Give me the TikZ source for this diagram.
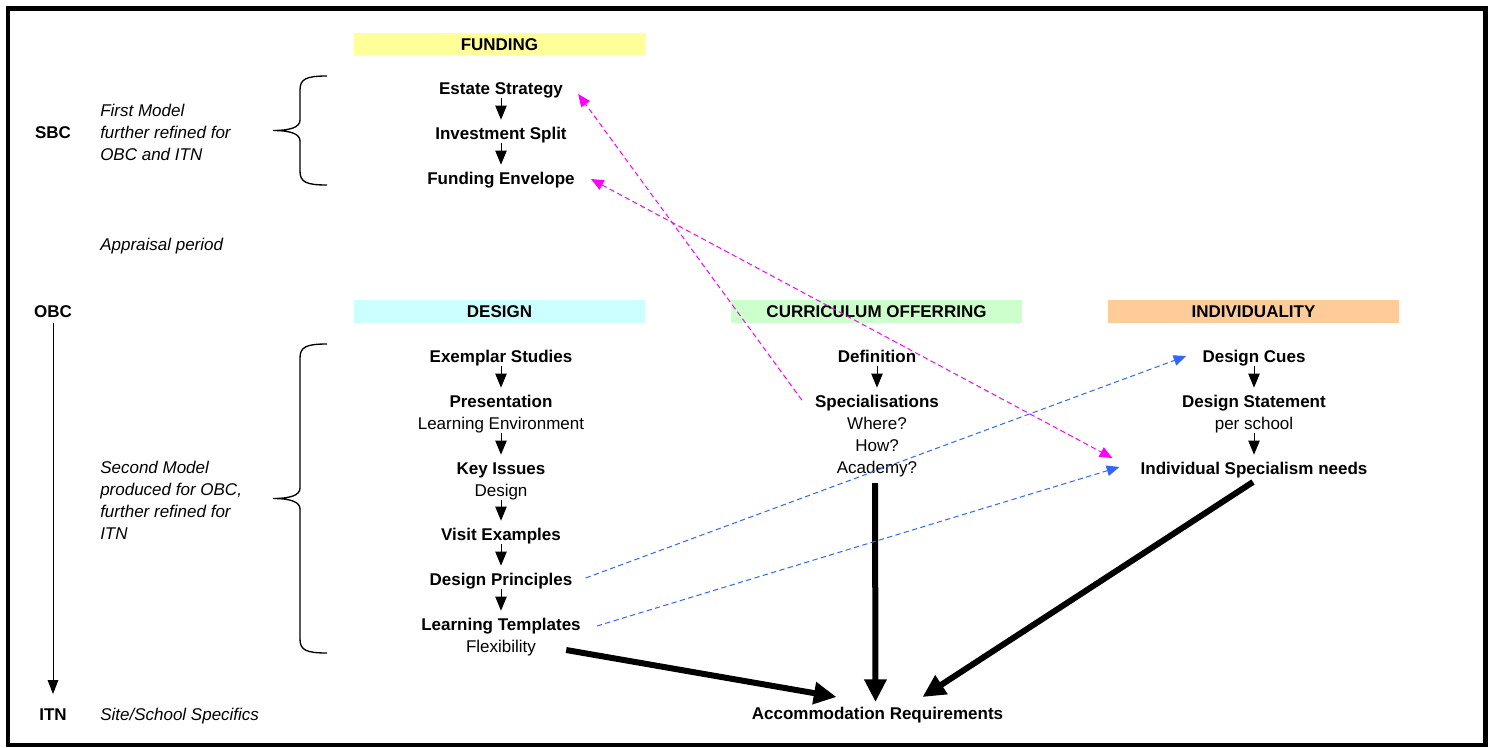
\documentclass[tikz,border=0pt]{standalone}
\usepackage{fontspec}
\setmainfont{Liberation Sans}
\usetikzlibrary{arrows.meta,calc}
\definecolor{fundfill}{HTML}{FFFF99}
\definecolor{desfill}{HTML}{CCFFFF}
\definecolor{curfill}{HTML}{CCFFCC}
\definecolor{indfill}{HTML}{FFCC99}
\definecolor{linkmag}{HTML}{FF00FF}
\definecolor{linkblue}{HTML}{3366FF}
\begin{document}
\begin{tikzpicture}[x=0.75pt,y=-0.75pt,
  every node/.style={inner sep=0pt, font=\fontsize{12.75}{16.5}\selectfont},
  ttl/.style={anchor=base, font=\fontsize{12.75}{16.5}\selectfont\bfseries},
  sub/.style={anchor=base},
  phase/.style={anchor=base, font=\fontsize{12.75}{16.5}\selectfont\bfseries},
  side/.style={anchor=base west, font=\fontsize{12.75}{16.5}\selectfont\itshape},
  hdr/.style={minimum width=218.25pt, minimum height=17pt, text height=9.2pt,
    text depth=0pt, font=\fontsize{12.75}{16.5}\selectfont\bfseries},
  sarr/.style={-{Triangle[length=10.5pt,width=8.5pt]}, line width=0.75pt},
  varr/.style={-{Triangle[length=10.5pt,width=8pt]}, line width=0.75pt},
  tarr/.style={-{Triangle[length=17pt,width=16pt]}, line width=4.5pt},
  dlink/.style={dash pattern=on 4pt off 2.5pt, line width=0.75pt},
  dtip/.style={-{Triangle[length=9.5pt,width=8pt]}},
  brace/.style={line width=1pt}
]
\useasboundingbox (0,0) rectangle (1488,747);
% outer frame
\draw[line width=3.4pt] (8,8.5) rectangle (1485.5,745);

% column headings
\node[hdr, fill=fundfill] (hfund) at (499.5,44) {FUNDING};
\node[hdr, fill=desfill] (hdes) at (499.5,311.5) {DESIGN};
\node[hdr, fill=curfill] (hcur) at (876.5,311.5) {CURRICULUM OFFERRING};
\node[hdr, fill=indfill] (hind) at (1253.5,311.5) {INDIVIDUALITY};

% stages on the left
\node[phase] (sbc) at (53,138) {SBC};
\node[phase] (obc) at (53,317) {OBC};
\node[phase] (itn) at (53,720) {ITN};
\draw[varr] ([yshift=-4.5pt]obc.base) -- ([yshift=19.5pt]itn.base);

\node[side] (m1a) at (100,116) {First Model};
\node[side] (m1b) at (100,138) {further refined for};
\node[side] (m1c) at (100,160) {OBC and ITN};
\node[side] (ap) at (100,250) {Appraisal period};
\node[side] (m2a) at (100,473) {Second Model};
\node[side] (m2b) at (100,495) {produced for OBC,};
\node[side] (m2c) at (100,517) {further refined for};
\node[side] (m2d) at (100,539) {ITN};
\node[side] (sss) at (100,720) {Site/School Specifics};

% braces
\draw[brace] (327,76) .. controls (306,76) and (300,79) .. (300,90) -- (300,120)
  .. controls (300,127) and (291,130.5) .. (273,130.5)
  .. controls (291,130.5) and (300,134) .. (300,141) -- (300,171)
  .. controls (300,182) and (306,185) .. (327,185);
\draw[brace] (327,344) .. controls (306,344) and (300,347) .. (300,358) -- (300,488)
  .. controls (300,495) and (291,498.5) .. (273,498.5)
  .. controls (291,498.5) and (300,502) .. (300,509) -- (300,639)
  .. controls (300,650) and (306,653) .. (327,653);

% funding column
\node[ttl] (es) at (501,94) {Estate Strategy};
\node[ttl] (is) at (501,139) {Investment Split};
\node[ttl] (fe) at (501,184) {Funding Envelope};

% design column
\node[ttl] (ex) at (501,362) {Exemplar Studies};
\node[ttl] (pr) at (501,407) {Presentation};
\node[sub] (le) at (501,429) {Learning Environment};
\node[ttl] (ki) at (501,474) {Key Issues};
\node[sub] (kd) at (501,496) {Design};
\node[ttl] (ve) at (501,540) {Visit Examples};
\node[ttl] (dp) at (501,585) {Design Principles};
\node[ttl] (lt) at (501,630) {Learning Templates};
\node[sub] (fl) at (501,652) {Flexibility};

% curriculum column
\node[ttl] (df) at (877,362) {Definition};
\node[ttl] (sp) at (877,407) {Specialisations};
\node[sub] (wh) at (877,429) {Where?};
\node[sub] (hw) at (877,451) {How?};
\node[sub] (ac) at (877,473) {Academy?};

% individuality column
\node[ttl] (dc) at (1254,362) {Design Cues};
\node[ttl] (ds) at (1254,407) {Design Statement};
\node[sub] (ps) at (1254,429) {per school};
\node[ttl] (isn) at (1254,474) {Individual Specialism needs};

\node[ttl] (acc) at (877.5,719) {Accommodation Requirements};

% steps within each column
\foreach \a/\b in {es/is, is/fe, ex/pr, le/ki, kd/ve, ve/dp, dp/lt, df/sp, dc/ds, ps/isn}
  \draw[sarr] ([yshift=-3pt]\a.base) -- ([yshift=14.5pt]\b.base);

% main flows into the requirements
\draw[tarr] ($(fl.base east)+(30,-2)$) -- ($(acc.base)+(-41,-22)$);
\draw[tarr] ($(ac.base)+(-2,10)$) -- ($(acc.base)+(-2,-17)$);
\draw[tarr] ($(isn.base)+(-1,8)$) -- ($(acc.base)+(45,-22)$);

% cross links
\draw[dlink, linkmag, dtip] ($(sp.base west)+(-13,-7)$) -- ($(es.base east)+(15,0)$);
\draw[dlink, linkmag, {Triangle[length=9.5pt,width=8pt]}-{Triangle[length=9.5pt,width=8pt]}]
  ($(fe.base east)+(16,-5)$) -- ($(isn.base west)+(-28,-16)$);
\draw[dlink, linkblue, dtip] ($(dp.base east)+(13,-7)$) -- ($(dc.base west)+(-16,-6)$);
\draw[dlink, linkblue, dtip] ($(lt.base east)+(16,-4)$) -- ($(isn.base west)+(-21,-7)$);
\end{tikzpicture}
\end{document}
